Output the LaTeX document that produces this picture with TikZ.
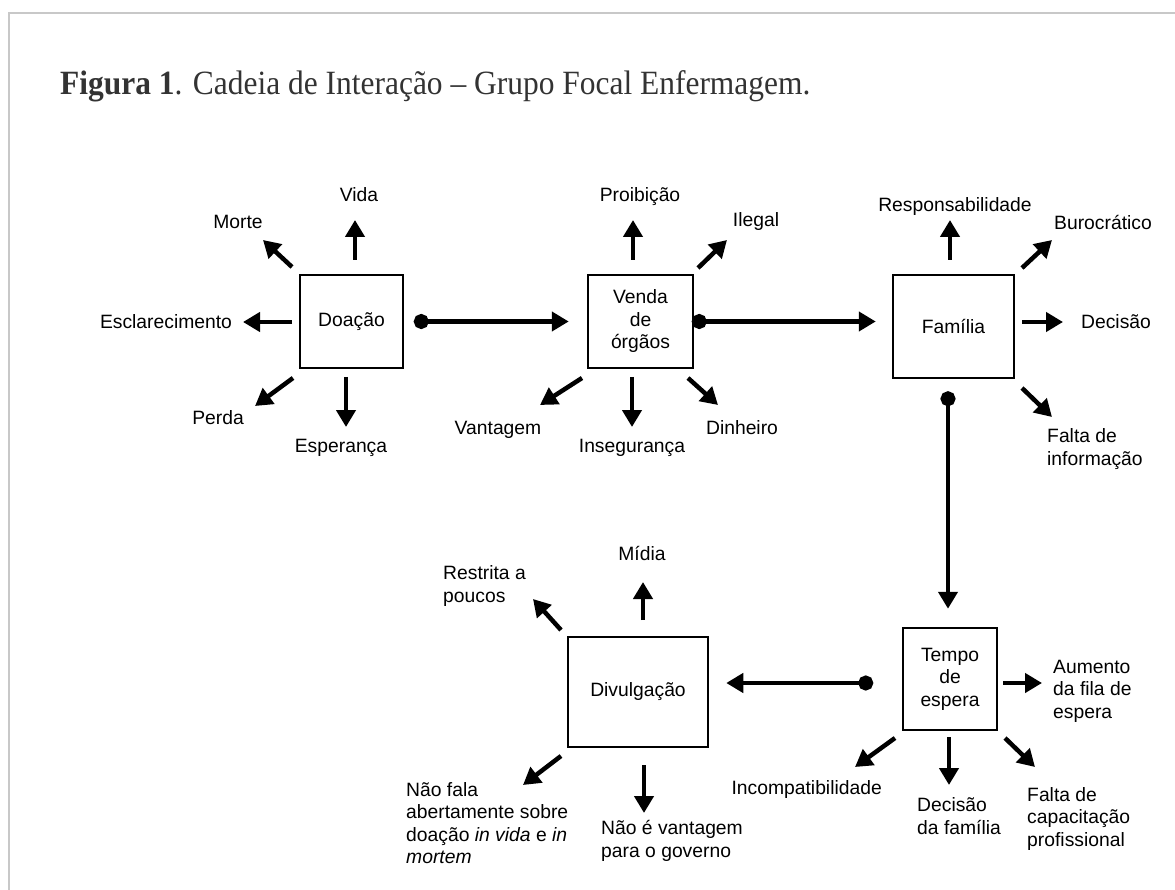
\documentclass[tikz,border=0pt]{standalone}
\usepackage{fontspec}
\setmainfont{Liberation Sans}
\newfontfamily\titleserif[FakeStretch=0.925]{Liberation Serif}
\usetikzlibrary{arrows.meta}
\definecolor{framegray}{HTML}{C8C8C8}
\definecolor{titlegray}{HTML}{333333}
\newcommand{\lblfont}{\fontsize{19.3}{22.5}\selectfont}
\tikzset{
  box/.style={draw, line width=2.5pt, inner sep=0pt, align=center, font=\lblfont},
  lbl/.style={inner sep=0pt, align=left, font=\lblfont},
  slbl/.style={inner sep=0pt, anchor=base, font=\lblfont},
  spoke/.style={line width=4.5pt, -{Triangle[length=17pt,width=19pt]}},
  conn/.style={line width=4.5pt, {Circle[length=15pt]}-{Triangle[length=17pt,width=19pt]}},
}
\begin{document}
\begin{tikzpicture}[x=1pt,y=-1pt]
\useasboundingbox (0,0) rectangle (1175,890);
% frame
\draw[framegray, line width=2pt] (1175,13) -- (9,13) -- (9,890);
% title
\node[anchor=base west, inner sep=0pt, text=titlegray, font=\titleserif\fontsize{34}{40}\selectfont] (title) at (60,95) {\textbf{Figura 1}. Cadeia de Interação – Grupo Focal Enfermagem.};

% boxes
\node[box, minimum width=103pt, minimum height=93pt] (doacao) at (351.5,321.5) {Doação};
\node[box, minimum width=105pt, minimum height=93pt] (venda) at (640.5,321.5) {Venda\\de\\órgãos};
\node[box, minimum width=121pt, minimum height=103pt] (familia) at (953.5,326.5) {Família};
\node[box, minimum width=94pt, minimum height=102pt] (tempo) at (950,679) {Tempo\\de\\espera};
\node[box, minimum width=140pt, minimum height=110pt] (divulg) at (638,692) {Divulgação};

% connectors
\draw[conn] ([xshift=9.5pt]doacao.east) -- ([xshift=-18pt]venda.west);
\draw[conn] ([xshift=-2.5pt]venda.east) -- ([xshift=-16pt,yshift=5pt]familia.west);
\draw[conn] ([xshift=-5.5pt,yshift=-12pt]familia.south) -- ([xshift=-2pt,yshift=18pt]tempo.north);
\draw[conn] ([xshift=-28.5pt,yshift=-4pt]tempo.west) -- ([xshift=17pt,yshift=9pt]divulg.east);

% Doação spokes and labels
\draw[spoke] ([shift={(3.5,-61.5)}]doacao.center) -- ++(0,-40);
\draw[spoke] ([shift={(-59.5,-54.5)}]doacao.center) -- ++(-29,-27);
\draw[spoke] ([shift={(-59.5,0.5)}]doacao.center) -- ++(-49,0);
\draw[spoke] ([shift={(-58.5,56.5)}]doacao.center) -- ++(-38,28);
\draw[spoke] ([shift={(-5.5,55.5)}]doacao.center) -- ++(0,50);
\node[slbl] (vida) at (359,202) {Vida};
\node[slbl] (morte) at (238,229) {Morte};
\node[slbl] (esclar) at (166,329) {Esclarecimento};
\node[slbl] (perda) at (218,424) {Perda};
\node[slbl] (esper) at (341,452) {Esperança};

% Venda spokes and labels
\draw[spoke] ([shift={(-7.5,-61.5)}]venda.center) -- ++(0,-40);
\draw[spoke] ([shift={(57.5,-53.5)}]venda.center) -- ++(29,-28);
\draw[spoke] ([shift={(-58.5,56.5)}]venda.center) -- ++(-42,27);
\draw[spoke] ([shift={(-8.5,55.5)}]venda.center) -- ++(0,50);
\draw[spoke] ([shift={(47.5,56.5)}]venda.center) -- ++(30,27);
\node[slbl] (proib) at (640,202) {Proibição};
\node[slbl] (ilegal) at (756,227) {Ilegal};
\node[slbl] (vantag) at (498,434) {Vantagem};
\node[slbl] (insegur) at (632,452) {Insegurança};
\node[slbl] (dinheiro) at (742,434) {Dinheiro};

% Família spokes and labels
\draw[spoke] ([shift={(-3.5,-66.5)}]familia.center) -- ++(0,-40);
\draw[spoke] ([shift={(68.5,-58.5)}]familia.center) -- ++(30,-28);
\draw[spoke] ([shift={(68.5,-4.5)}]familia.center) -- ++(41,0);
\draw[spoke] ([shift={(68.5,61.5)}]familia.center) -- ++(30,29);
\node[slbl] (resp) at (955,212) {Responsabilidade};
\node[slbl] (buro) at (1103,230) {Burocrático};
\node[slbl] (decisao) at (1116,329) {Decisão};
\node[lbl, anchor=west] (faltainfo) at (1047,449) {Falta de\\informação};

% Tempo spokes and labels
\draw[spoke] ([shift={(53,4)}]tempo.center) -- ++(39,0);
\draw[spoke] ([shift={(-55,59)}]tempo.center) -- ++(-40,29);
\draw[spoke] ([shift={(-1,58)}]tempo.center) -- ++(0,48);
\draw[spoke] ([shift={(55,59)}]tempo.center) -- ++(30,29);
\node[lbl, anchor=west] (aumento) at (1053,691) {Aumento\\da fila de\\espera};
\node[slbl, anchor=base east] (incomp) at (882,794) {Incompatibilidade};
\node[lbl, anchor=west] (decfam) at (917,816) {Decisão\\da família};
\node[lbl, anchor=west] (faltacap) at (1027,819) {Falta de\\capacitação\\profissional};

% Divulgação spokes and labels
\draw[spoke] ([shift={(5,-72)}]divulg.center) -- ++(0,-38);
\draw[spoke] ([shift={(-77,-62)}]divulg.center) -- ++(-28,-31);
\draw[spoke] ([shift={(-77,64)}]divulg.center) -- ++(-38,29);
\draw[spoke] ([shift={(6,73)}]divulg.center) -- ++(0,48);
\node[slbl] (midia) at (642,560) {Mídia};
\node[lbl, anchor=west] (restrita) at (443,586) {Restrita a\\poucos};
\node[lbl, anchor=west] (naofala) at (406,823) {Não fala\\abertamente sobre\\doação \textit{in vida} e \textit{in}\\\textit{mortem}};
\node[lbl, anchor=west] (naoe) at (601,841) {Não é vantagem\\para o governo};
\end{tikzpicture}
\end{document}
